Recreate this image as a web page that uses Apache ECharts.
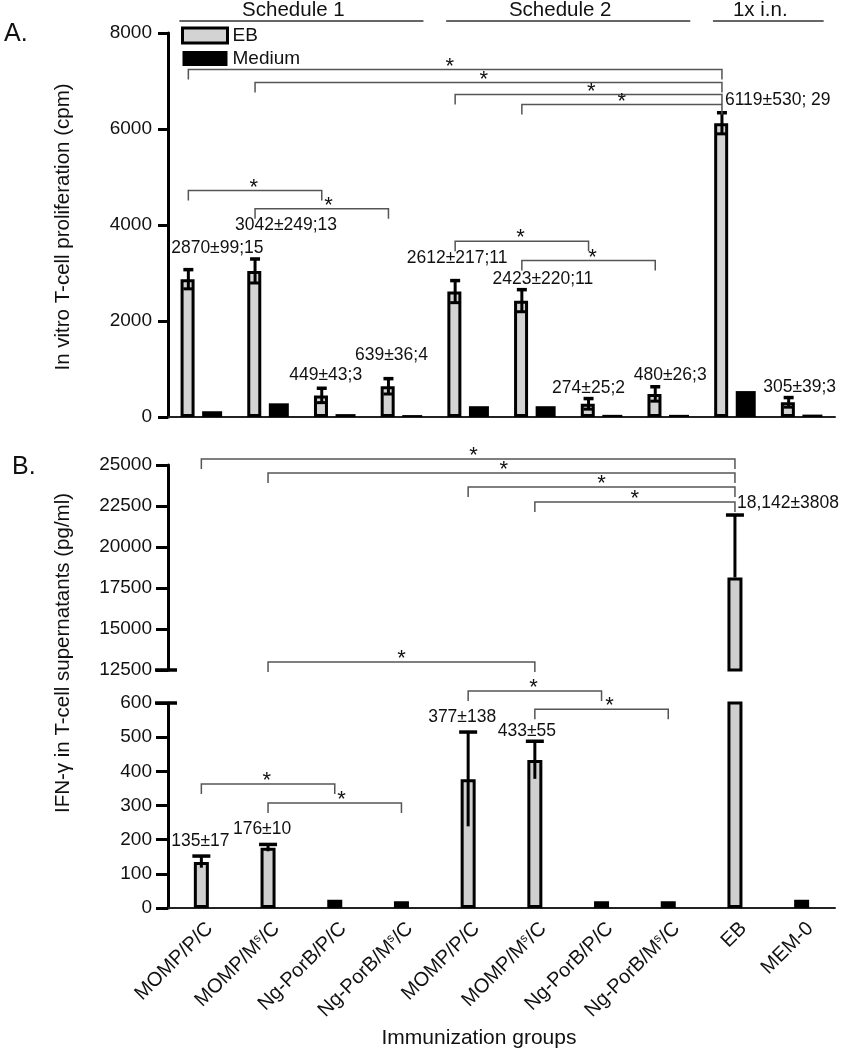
<!DOCTYPE html>
<html><head><meta charset="utf-8">
<script src="https://cdn.jsdelivr.net/npm/echarts@6/dist/echarts.min.js"></script>
<style>html,body{margin:0;padding:0;background:#fff}#c{width:842px;height:1050px}</style>
</head><body><div id="c"></div>
<script>
// ---------- DATA ----------
const categories = ['MOMP/P/C','MOMP/Mˢ/C','Ng-PorB/P/C','Ng-PorB/Mˢ/C','MOMP/P/C','MOMP/Mˢ/C','Ng-PorB/P/C','Ng-PorB/Mˢ/C','EB','MEM-0'];
// Panel A: T-cell proliferation (cpm)
const ebA = [2870, 3042, 449, 639, 2612, 2423, 274, 480, 6119, 305];
const ebErrA = [200, 250, 150, 160, 230, 230, 110, 150, 220, 100];
const mediumA = [120, 285, 60, 40, 225, 225, 45, 45, 540, 50];
const labelTextA = ['2870±99;15','3042±249;13','449±43;3','639±36;4','2612±217;11','2423±220;11','274±25;2','480±26;3','6119±530; 29','305±39;3'];
// Panel B: IFN-gamma (pg/ml)
const ifnB = [135, 176, 24, 20, 377, 433, 20, 20, 18142, 24];
const ifnErrUpB = [17, 10, 0, 0, 138, 55, 0, 0, 3808, 0];
const ifnErrLowB = [17, 10, 0, 0, 138, 55, 0, 0, 0, 0];
const labelTextBLow = ['135±17','176±10','377±138','433±55'];
const labelIdxBLow = [0, 1, 4, 5];
const labelTextBUp = ['18,142±3808'];
const labelIdxBUp = [8];
// Axis ticks
const yTicksA = {min: 0, max: 8000, interval: 2000};
const yTicksBUp = {min: 12500, max: 25000, interval: 2500};
const yTicksBLow = {min: 0, max: 600, interval: 100};
// Significance brackets: [fromGroup, toGroup]
const bracketPairsA = [[0,8],[1,8],[4,8],[5,8],[0,2],[1,3],[4,6],[5,7]];
const bracketPairsBUp = [[0,8],[1,8],[4,8],[5,8]];
const bracketPairsBLow = [[1,5],[4,6],[5,7],[0,2],[1,3]];
const schedules = [{text:'Schedule 1', from:0, to:3},{text:'Schedule 2', from:4, to:7},{text:'1x i.n.', from:8, to:9}];

// ---------- LAYOUT (annotation placement, in axis units / px) ----------
const bracketYA = [7240, 6970, 6720, 6510, 4720, 4340, 3660, 3260];
const starTA = [0.49, 0.49, 0.51, 0.50, 0.49, 0.55, 0.49, 0.53];
const bracketYBUp = [25370, 24512, 23659, 22744];
const starTBUp = [0.51, 0.505, 0.50, 0.50];
const bracketYBLow = [720, 635, 582, 363, 307];
const starTBLow = [0.50, 0.49, 0.56, 0.49, 0.55];
const labelYA = [3520, 4000, 875, 1292, 3313, 2875, 604, 875, 6604, 625];
const labelDxA = [16, 18, -9, -10, -11, 8, -13, 2, -10, -2];
const labelYBLow = [196, 231, 559, 518];
const labelDxBLow = [-1, -6, -6, -8];
const labelYBUp = [22683];
const labelDxBUp = [2];

const FONT = 'Liberation Sans, Arial, Helvetica, sans-serif';
const EB_DX = -13;
const TICK = 10;

function bracketSeries(xi, yi, pairs, ys, ts, dx){
  return {type:'custom', xAxisIndex:xi, yAxisIndex:yi, clip:false, z:6, silent:true,
    encode:{x:0, y:2},
    data: pairs.map((p,i)=>[p[0], p[1], ys[i], ts[i]]),
    renderItem(params, api){
      const a = api.coord([api.value(0), api.value(2)]);
      const b = api.coord([api.value(1), api.value(2)]);
      const x1 = a[0]+dx, x2 = b[0]+dx, y = a[1];
      const t = api.value(3);
      return {type:'group', children:[
        {type:'polyline', shape:{points:[[x1,y+TICK],[x1,y],[x2,y],[x2,y+TICK]]}, style:{stroke:'#555', lineWidth:1.5, fill:null}},
        {type:'text', x:x1+(x2-x1)*t, y:y-3, style:{text:'*', fontSize:22, fontFamily:FONT, fill:'#111', align:'center', verticalAlign:'middle'}}
      ]};
    }};
}
function errSeries(xi, yi, vals, up, low, dx, capW, lowCap){
  return {type:'custom', xAxisIndex:xi, yAxisIndex:yi, clip:true, z:5, silent:true,
    encode:{x:0, y:1},
    data: vals.map((v,i)=>[i, v, up[i], low[i]]),
    renderItem(params, api){
      const i = api.value(0), v = api.value(1), e = api.value(2), el = api.value(3);
      if (!(e > 0)) return null;
      const top = api.coord([i, v+e]);
      const bot = api.coord([i, v-el]);
      const x = top[0]+dx;
      const ch = [
        {type:'line', shape:{x1:x, y1:bot[1], x2:x, y2:top[1]}, style:{stroke:'#000', lineWidth:3}},
        {type:'line', shape:{x1:x-capW, y1:top[1], x2:x+capW, y2:top[1]}, style:{stroke:'#000', lineWidth:3.5}}
      ];
      if (lowCap && el > 0) ch.push({type:'line', shape:{x1:x-capW, y1:bot[1], x2:x+capW, y2:bot[1]}, style:{stroke:'#000', lineWidth:3}});
      return {type:'group', children:ch};
    }};
}
function labelSeries(xi, yi, idxs, ys, dxs, texts, aligns){
  return {type:'custom', xAxisIndex:xi, yAxisIndex:yi, clip:false, z:7, silent:true,
    encode:{x:0, y:1},
    data: idxs.map((g,i)=>[g, ys[i], dxs[i]]),
    renderItem(params, api){
      const p = api.coord([api.value(0), api.value(1)]);
      const k = params.dataIndex;
      return {type:'text', x:p[0]+api.value(2), y:p[1], style:{text:texts[k], fontSize:17.5, fontFamily:FONT, fill:'#111', align:aligns ? aligns[k] : 'center', verticalAlign:'middle'}};
    }};
}
function breakSeries(xi, yi, val){
  return {type:'custom', xAxisIndex:xi, yAxisIndex:yi, clip:false, z:8, silent:true,
    encode:{x:0, y:1}, data:[[0, val]],
    renderItem(params, api){
      const cs = params.coordSys; const y = api.coord([0, api.value(1)])[1];
      return {type:'line', shape:{x1:cs.x-13, y1:y, x2:cs.x+9, y2:y}, style:{stroke:'#000', lineWidth:3.5}};
    }};
}

const yAxisBase = (grid, t, tickLen) => ({type:'value', gridIndex:grid, min:t.min, max:t.max, interval:t.interval,
  axisLine:{show:true, lineStyle:{color:'#000', width:3}},
  axisTick:{show:true, length:tickLen, lineStyle:{color:'#000', width:3}},
  axisLabel:{color:'#111', fontSize:19, fontFamily:FONT, margin:16, formatter:(v)=>String(v)},
  splitLine:{show:false}});

const labelsA_aligns = labelTextA.map((s,i)=> i===8 ? 'left' : 'center');
const bFill = (p) => (p.value < 50 ? '#000' : '#cfcfcf');

const option = {
  animation:false,
  backgroundColor:'#fff',
  textStyle:{fontFamily:FONT},
  legend:{left:181, top:26, padding:0, orient:'vertical', itemWidth:45, itemHeight:15, itemGap:4,
    textStyle:{fontSize:19, color:'#111', fontFamily:FONT},
    data:[{name:'EB', icon:'rect', itemStyle:{color:'#d3d3d3', borderColor:'#000', borderWidth:3}},
          {name:'Medium', icon:'rect', itemStyle:{color:'#000'}}]},
  grid:[
    {left:168, top:33, width:667, height:384},
    {left:168, top:465, width:667, height:205},
    {left:168, top:703, width:667, height:205}
  ],
  xAxis:[
    {type:'category', gridIndex:0, data:categories,
      axisLine:{lineStyle:{color:'#222', width:2}},
      axisTick:{alignWithLabel:true, length:8, lineStyle:{color:'#000', width:2.5}},
      axisLabel:{show:false}},
    {type:'category', gridIndex:1, data:categories, show:false},
    {type:'category', gridIndex:2, data:categories,
      axisLine:{lineStyle:{color:'#222', width:2}},
      axisTick:{alignWithLabel:true, length:11, lineStyle:{color:'#000', width:2.5}},
      axisLabel:{interval:0, rotate:45, margin:26, padding:[0,-12,0,0], fontSize:20, fontFamily:FONT, color:'#111',
        formatter:(v)=> v.replace('ˢ','{s|s}'),
        rich:{s:{fontSize:12, fontFamily:FONT, color:'#111', padding:[0,0,9,0]}}}}
  ],
  yAxis:[
    yAxisBase(0, yTicksA, 10),
    yAxisBase(1, yTicksBUp, 12),
    yAxisBase(2, yTicksBLow, 12)
  ],
  series:[
    {name:'EB', type:'bar', xAxisIndex:0, yAxisIndex:0, data:ebA, barWidth:14, barGap:'54%',
      itemStyle:{color:'#d3d3d3', borderColor:'#000', borderWidth:3}},
    {name:'Medium', type:'bar', xAxisIndex:0, yAxisIndex:0, data:mediumA, barWidth:20,
      itemStyle:{color:'#000'}},
    errSeries(0, 0, ebA, ebErrA, ebErrA, EB_DX, 5, true),
    bracketSeries(0, 0, bracketPairsA, bracketYA, starTA, EB_DX),
    labelSeries(0, 0, labelTextA.map((s,i)=>i), labelYA, labelDxA, labelTextA, labelsA_aligns),

    {name:'IFN upper', type:'bar', xAxisIndex:1, yAxisIndex:1, data:ifnB, barWidth:15, clip:true,
      itemStyle:{color:bFill, borderColor:'#000', borderWidth:3}},
    errSeries(1, 1, ifnB, ifnErrUpB, ifnErrLowB, 0, 9, false),
    bracketSeries(1, 1, bracketPairsBUp, bracketYBUp, starTBUp, 0),
    labelSeries(1, 1, labelIdxBUp, labelYBUp, labelDxBUp, labelTextBUp, ['left']),
    breakSeries(1, 1, yTicksBUp.min),

    {name:'IFN lower', type:'bar', xAxisIndex:2, yAxisIndex:2, data:ifnB, barWidth:15, clip:true,
      itemStyle:{color:bFill, borderColor:'#000', borderWidth:3}},
    errSeries(2, 2, ifnB, ifnErrUpB, ifnErrLowB, 0, 9, false),
    bracketSeries(2, 2, bracketPairsBLow, bracketYBLow, starTBLow, 0),
    labelSeries(2, 2, labelIdxBLow, labelYBLow, labelDxBLow, labelTextBLow, null),
    breakSeries(2, 2, yTicksBLow.max)
  ]
};

const chart = echarts.init(document.getElementById('c'), null, {renderer:'canvas'});
chart.setOption(option);

// Decorations computed from the axis
const g = [];
schedules.forEach(s => {
  const x1 = chart.convertToPixel({xAxisIndex:0}, s.from) - 22;
  const x2 = chart.convertToPixel({xAxisIndex:0}, s.to) + 22;
  g.push({type:'line', shape:{x1:x1, y1:21, x2:x2, y2:21}, style:{stroke:'#333', lineWidth:1.5}});
  g.push({type:'text', x:(x1+x2)/2 - 8, y:10, style:{text:s.text, fontSize:20.5, fontFamily:FONT, fill:'#111', align:'center', verticalAlign:'middle'}});
});
g.push({type:'text', x:4, y:34, style:{text:'A.', fontSize:25, fontFamily:FONT, fill:'#111', verticalAlign:'middle'}});
g.push({type:'text', x:12, y:467, style:{text:'B.', fontSize:25, fontFamily:FONT, fill:'#111', verticalAlign:'middle'}});
g.push({type:'text', x:63, y:227, rotation:Math.PI/2, style:{text:'In vitro T-cell proliferation (cpm)', fontSize:20.5, fontFamily:FONT, fill:'#111', align:'center', verticalAlign:'middle'}});
g.push({type:'text', x:63, y:653, rotation:Math.PI/2, style:{text:'IFN-γ in T-cell supernatants (pg/ml)', fontSize:20.5, fontFamily:FONT, fill:'#111', align:'center', verticalAlign:'middle'}});
g.push({type:'text', x:479, y:1038, style:{text:'Immunization groups', fontSize:21, fontFamily:FONT, fill:'#111', align:'center', verticalAlign:'middle'}});
chart.setOption({graphic:g});
</script></body></html>
